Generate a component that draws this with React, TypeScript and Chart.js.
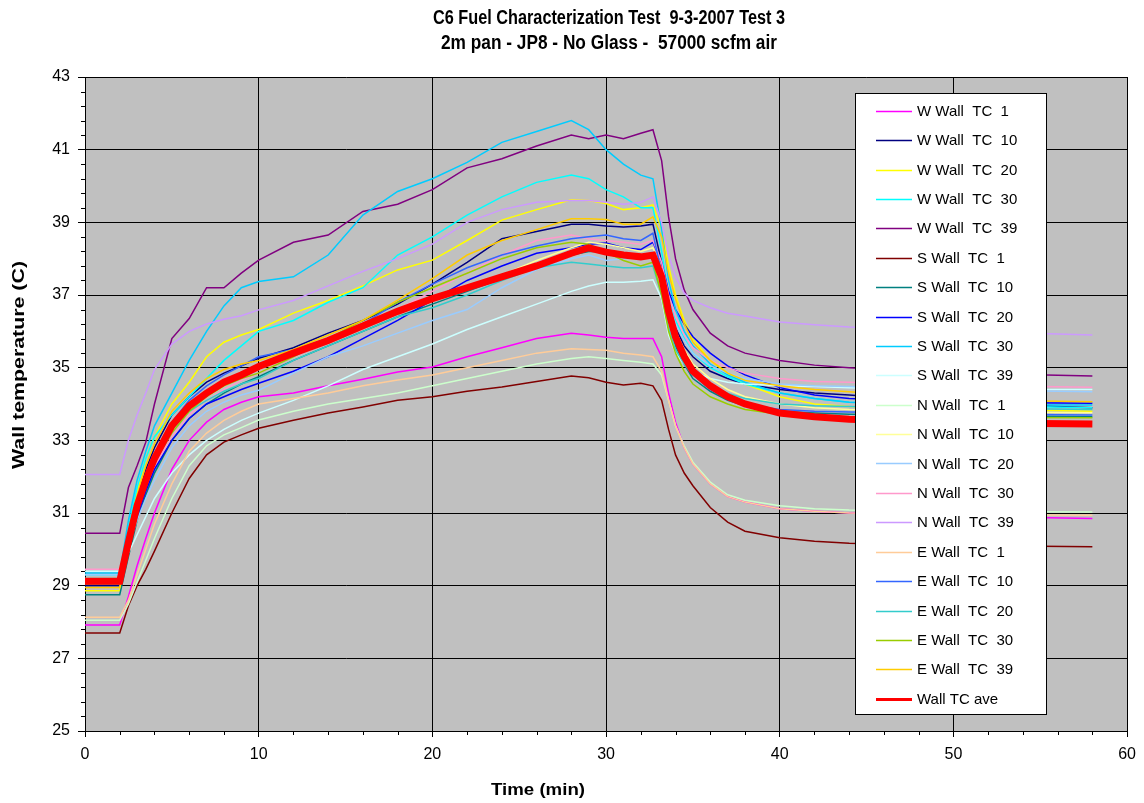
import React, { useEffect, useRef } from "react";
import { Chart, registerables } from "chart.js";

Chart.register(...registerables);

// ---- data ----
const TIME = [0, 2, 2.5, 3, 3.5, 4, 5, 6, 7, 8, 9, 10, 12, 14, 16, 18, 20, 22, 24, 26, 28, 29, 30, 31, 32, 32.7, 33.2, 33.6, 34, 34.5, 35, 36, 37, 38, 40, 42, 44, 48, 52, 58];

const W_WALL_1 = [27.92, 27.92, 28.7, 29.55, 30.3, 31.0, 32.2, 33.0, 33.5, 33.85, 34.05, 34.2, 34.3, 34.5, 34.68, 34.88, 35.02, 35.3, 35.55, 35.8, 35.95, 35.9, 35.84, 35.8, 35.8, 35.8, 35.3, 34.3, 33.5, 32.8, 32.35, 31.8, 31.45, 31.3, 31.12, 31.05, 31.0, 30.95, 30.9, 30.85];
const W_WALL_10 = [29.0, 29.0, 30.5, 31.4, 32.2, 32.8, 33.7, 34.2, 34.6, 34.85, 35.05, 35.26, 35.55, 35.95, 36.3, 36.75, 37.3, 37.9, 38.55, 38.75, 38.95, 38.95, 38.9, 38.87, 38.9, 38.95, 37.9, 36.8, 36.1, 35.6, 35.3, 34.9, 34.7, 34.55, 34.4, 34.3, 34.25, 34.1, 34.0, 33.9];
const W_WALL_20 = [28.86, 28.86, 30.4, 31.6, 32.5, 33.1, 34.0, 34.6, 35.3, 35.7, 35.9, 36.05, 36.5, 36.85, 37.25, 37.69, 37.96, 38.5, 39.06, 39.35, 39.62, 39.6, 39.52, 39.35, 39.4, 39.48, 38.8, 37.8, 37.0, 36.3, 35.8, 35.2, 34.85, 34.55, 34.2, 34.0, 33.93, 33.88, 33.85, 33.8];
const W_WALL_30 = [29.3, 29.3, 30.6, 31.7, 32.5, 33.1, 33.7, 34.2, 34.7, 35.2, 35.6, 36.0, 36.3, 36.8, 37.2, 38.1, 38.6, 39.2, 39.7, 40.1, 40.3, 40.2, 39.9, 39.7, 39.4, 39.4, 38.2, 37.0, 36.3, 35.8, 35.4, 35.0, 34.75, 34.55, 34.3, 34.15, 34.05, 34.0, 33.95, 33.9];
const W_WALL_39 = [30.44, 30.44, 31.7, 32.3, 32.95, 34.0, 35.8, 36.35, 37.2, 37.2, 37.6, 37.96, 38.45, 38.65, 39.3, 39.5, 39.9, 40.5, 40.75, 41.1, 41.4, 41.3, 41.4, 41.3, 41.45, 41.55, 40.7, 39.15, 38.0, 37.14, 36.6, 35.95, 35.6, 35.4, 35.2, 35.07, 35.0, 34.9, 34.83, 34.77];
const S_WALL_1 = [27.7, 27.7, 28.45, 29.0, 29.45, 29.95, 31.0, 31.95, 32.6, 32.95, 33.15, 33.33, 33.55, 33.75, 33.92, 34.1, 34.2, 34.35, 34.47, 34.62, 34.77, 34.72, 34.6, 34.52, 34.57, 34.5, 34.1, 33.3, 32.6, 32.1, 31.75, 31.15, 30.75, 30.5, 30.32, 30.22, 30.17, 30.12, 30.1, 30.07];
const S_WALL_10 = [28.75, 28.75, 29.8, 30.8, 31.5, 32.1, 33.0, 33.6, 34.0, 34.3, 34.55, 34.75, 35.2, 35.6, 36.0, 36.4, 36.75, 37.1, 37.45, 37.75, 38.1, 38.2, 38.2, 38.1, 38.0, 38.1, 37.3, 36.3, 35.6, 35.1, 34.7, 34.35, 34.1, 33.95, 33.8, 33.75, 33.72, 33.7, 33.68, 33.65];
const S_WALL_20 = [29.05, 29.05, 30.0, 30.9, 31.6, 32.2, 33.0, 33.6, 34.0, 34.2, 34.4, 34.57, 34.9, 35.3, 35.8, 36.3, 36.86, 37.4, 37.8, 38.15, 38.3, 38.4, 38.43, 38.3, 38.25, 38.45, 37.9, 37.1, 36.6, 36.2, 35.85, 35.4, 35.05, 34.8, 34.45, 34.25, 34.15, 34.08, 34.04, 34.02];
const S_WALL_30 = [29.35, 29.35, 30.8, 31.9, 32.7, 33.4, 34.3, 35.2, 36.0, 36.7, 37.2, 37.37, 37.5, 38.1, 39.2, 39.85, 40.2, 40.65, 41.2, 41.5, 41.8, 41.55, 41.0, 40.6, 40.3, 40.2, 38.8, 37.4, 36.6, 36.0, 35.6, 35.1, 34.8, 34.6, 34.3, 34.15, 34.05, 34.0, 33.98, 33.97];
const S_WALL_39 = [29.4, 29.4, 29.9, 30.4, 30.9, 31.4, 32.1, 32.6, 33.0, 33.3, 33.55, 33.75, 34.1, 34.5, 34.95, 35.3, 35.65, 36.05, 36.4, 36.75, 37.1, 37.25, 37.35, 37.35, 37.38, 37.42, 36.9, 35.9, 35.4, 35.1, 34.9, 34.7, 34.6, 34.55, 34.5, 34.48, 34.45, 34.42, 34.4, 34.4];
const N_WALL_1 = [28.05, 28.05, 28.5, 29.1, 29.7, 30.3, 31.4, 32.3, 32.85, 33.15, 33.35, 33.56, 33.8, 34.0, 34.15, 34.3, 34.5, 34.7, 34.9, 35.1, 35.25, 35.3, 35.25, 35.2, 35.15, 35.1, 34.8, 34.1, 33.4, 32.85, 32.4, 31.85, 31.5, 31.35, 31.2, 31.12, 31.08, 31.05, 31.04, 31.03];
const N_WALL_10 = [29.2, 29.2, 30.3, 31.2, 31.9, 32.5, 33.3, 33.85, 34.2, 34.5, 34.75, 34.95, 35.35, 35.7, 36.1, 36.5, 36.85, 37.2, 37.55, 37.95, 38.3, 38.45, 38.4, 38.3, 38.2, 38.3, 37.7, 36.7, 36.0, 35.5, 35.1, 34.7, 34.4, 34.2, 34.0, 33.9, 33.85, 33.8, 33.78, 33.76];
const N_WALL_20 = [29.3, 29.3, 30.1, 30.8, 31.4, 31.9, 32.8, 33.4, 33.8, 34.05, 34.25, 34.38, 34.85, 35.3, 35.6, 35.95, 36.3, 36.6, 37.2, 37.7, 38.0, 38.1, 37.95, 38.0, 38.05, 38.2, 37.6, 36.8, 36.2, 35.75, 35.4, 35.05, 34.85, 34.7, 34.55, 34.5, 34.48, 34.42, 34.38, 34.34];
const N_WALL_30 = [29.45, 29.45, 30.3, 31.1, 31.8, 32.3, 33.1, 33.7, 34.1, 34.4, 34.65, 34.85, 35.3, 35.7, 36.1, 36.6, 37.1, 37.6, 38.1, 38.5, 38.65, 38.55, 38.5, 38.45, 38.4, 38.5, 37.9, 37.0, 36.4, 35.9, 35.55, 35.2, 35.0, 34.85, 34.7, 34.62, 34.6, 34.55, 34.5, 34.46];
const N_WALL_39 = [32.06, 32.06, 33.0, 33.7, 34.3, 34.95, 35.65, 36.0, 36.2, 36.33, 36.43, 36.59, 36.85, 37.25, 37.65, 38.0, 38.4, 39.0, 39.35, 39.55, 39.6, 39.6, 39.55, 39.5, 39.55, 39.7, 39.0, 38.1, 37.5, 37.05, 36.85, 36.65, 36.5, 36.42, 36.26, 36.18, 36.12, 36.05, 35.98, 35.9];
const E_WALL_1 = [28.13, 28.13, 28.6, 29.3, 30.0, 30.7, 31.8, 32.7, 33.2, 33.55, 33.8, 34.0, 34.15, 34.3, 34.5, 34.66, 34.8, 35.0, 35.2, 35.4, 35.52, 35.5, 35.48, 35.4, 35.35, 35.3, 34.9, 34.1, 33.4, 32.8, 32.35, 31.8, 31.45, 31.3, 31.12, 31.05, 31.0, 30.97, 30.95, 30.94];
const E_WALL_10 = [29.1, 29.1, 30.4, 31.3, 32.0, 32.6, 33.5, 34.1, 34.5, 34.8, 35.05, 35.3, 35.5, 35.8, 36.2, 36.8, 37.3, 37.75, 38.1, 38.35, 38.55, 38.6, 38.65, 38.55, 38.5, 38.7, 37.6, 36.4, 35.7, 35.2, 34.8, 34.4, 34.15, 34.0, 33.85, 33.8, 33.78, 33.75, 33.72, 33.7];
const E_WALL_20 = [29.2, 29.2, 30.3, 31.2, 31.9, 32.5, 33.3, 33.8, 34.1, 34.35, 34.55, 34.7, 35.2, 35.6, 36.0, 36.4, 36.65, 37.0, 37.4, 37.75, 37.9, 37.85, 37.8, 37.75, 37.75, 37.8, 37.0, 36.1, 35.5, 35.1, 34.8, 34.5, 34.3, 34.15, 34.0, 33.95, 33.93, 33.9, 33.88, 33.85];
const E_WALL_30 = [29.05, 29.05, 30.2, 31.1, 31.8, 32.4, 33.2, 33.8, 34.2, 34.5, 34.7, 34.85, 35.3, 35.8, 36.3, 36.8, 37.2, 37.6, 38.0, 38.3, 38.45, 38.4, 38.18, 37.95, 37.8, 37.9, 37.0, 36.0, 35.4, 34.9, 34.55, 34.2, 34.0, 33.85, 33.72, 33.67, 33.65, 33.64, 33.63, 33.62];
const E_WALL_39 = [28.95, 28.95, 30.5, 31.5, 32.3, 32.9, 33.8, 34.3, 34.7, 34.95, 35.1, 35.2, 35.5, 35.9, 36.3, 36.86, 37.45, 38.1, 38.5, 38.8, 39.1, 39.1, 39.08, 38.95, 38.95, 39.15, 38.6, 37.6, 36.9, 36.2, 35.7, 35.2, 34.85, 34.65, 34.5, 34.4, 34.34, 34.2, 34.1, 34.06];
const WALL_AVE = [29.12, 29.12, 30.2, 31.2, 31.9, 32.5, 33.4, 33.95, 34.3, 34.6, 34.8, 35.03, 35.4, 35.75, 36.15, 36.55, 36.9, 37.2, 37.5, 37.8, 38.15, 38.3, 38.18, 38.1, 38.05, 38.1, 37.5, 36.55, 35.85, 35.3, 34.9, 34.5, 34.2, 34.0, 33.75, 33.65, 33.58, 33.52, 33.48, 33.45];

const SERIES_NAMES = [
  "W Wall  TC  1", "W Wall  TC  10", "W Wall  TC  20", "W Wall  TC  30", "W Wall  TC  39",
  "S Wall  TC  1", "S Wall  TC  10", "S Wall  TC  20", "S Wall  TC  30", "S Wall  TC  39",
  "N Wall  TC  1", "N Wall  TC  10", "N Wall  TC  20", "N Wall  TC  30", "N Wall  TC  39",
  "E Wall  TC  1", "E Wall  TC  10", "E Wall  TC  20", "E Wall  TC  30", "E Wall  TC  39",
  "Wall TC ave",
];
const SERIES_VALUES = [
  W_WALL_1, W_WALL_10, W_WALL_20, W_WALL_30, W_WALL_39,
  S_WALL_1, S_WALL_10, S_WALL_20, S_WALL_30, S_WALL_39,
  N_WALL_1, N_WALL_10, N_WALL_20, N_WALL_30, N_WALL_39,
  E_WALL_1, E_WALL_10, E_WALL_20, E_WALL_30, E_WALL_39,
  WALL_AVE,
];

const TITLE_LINES = ["C6 Fuel Characterization Test  9-3-2007 Test 3", "2m pan - JP8 - No Glass -  57000 scfm air"];
const X_TITLE = "Time (min)";
const Y_TITLE = "Wall temperature (C)";

// ---- styles ----
const COLORS = [
  "#FF00FF", "#000080", "#FFFF00", "#00FFFF", "#800080",
  "#800000", "#008080", "#0000FF", "#00CCFF", "#CCFFFF",
  "#CCFFCC", "#FFFF99", "#99CCFF", "#FF99CC", "#CC99FF",
  "#FFCC99", "#3366FF", "#33CCCC", "#99CC00", "#FFCC00",
  "#FF0000",
];
const WIDTHS = [1.5, 1.5, 1.5, 1.5, 1.5, 1.5, 1.5, 1.5, 1.5, 1.5, 1.5, 1.5, 1.5, 1.5, 1.5, 1.5, 1.5, 1.5, 1.5, 1.5, 7];
const FONT = "'Liberation Sans', Arial, Helvetica, sans-serif";

function fillFit(ctx: CanvasRenderingContext2D, text: string, cx: number, cy: number, width: number) {
  const w = ctx.measureText(text).width;
  const s = width / w;
  ctx.save();
  ctx.translate(cx, cy);
  ctx.scale(s, 1);
  ctx.textAlign = "center";
  ctx.textBaseline = "middle";
  ctx.fillText(text, 0, 0);
  ctx.restore();
}

const decorPlugin = {
  id: "decor",
  beforeDraw(chart: any) {
    const { ctx, chartArea: a } = chart;
    ctx.save();
    ctx.fillStyle = "#C0C0C0";
    ctx.fillRect(a.left, a.top, a.right - a.left, a.bottom - a.top);
    ctx.restore();
  },
  afterDraw(chart: any) {
    const { ctx, chartArea: a } = chart;
    const xs = chart.scales.x;
    const ys = chart.scales.y;
    ctx.save();
    // minor ticks
    ctx.strokeStyle = "#000";
    ctx.lineWidth = 1;
    ctx.beginPath();
    for (let k = 0; k <= 45; k++) {
      if (k % 5 === 0) continue;
      const py = Math.round(ys.getPixelForValue(25 + 0.4 * k)) + 0.5;
      ctx.moveTo(a.left - 4, py);
      ctx.lineTo(a.left, py);
    }
    for (let t = 0; t <= 60; t += 2) {
      if (t % 10 === 0) continue;
      const px = Math.round(xs.getPixelForValue(t)) + 0.5;
      ctx.moveTo(px, a.bottom);
      ctx.lineTo(px, a.bottom + 4);
    }
    ctx.stroke();

    // legend
    const lx = 855.5, ly = 93.5, lw = 191, lh = 621;
    ctx.fillStyle = "#FFFFFF";
    ctx.fillRect(lx, ly, lw, lh);
    ctx.strokeStyle = "#000";
    ctx.lineWidth = 1;
    ctx.strokeRect(lx, ly, lw, lh);
    ctx.font = `15px ${FONT}`;
    ctx.textAlign = "left";
    ctx.textBaseline = "middle";
    for (let i = 0; i < SERIES_NAMES.length; i++) {
      const y = 110.7 + i * 29.4;
      ctx.strokeStyle = COLORS[i];
      ctx.lineWidth = i === SERIES_NAMES.length - 1 ? 3 : 1.5;
      ctx.beginPath();
      ctx.moveTo(876, Math.round(y) + 0.5);
      ctx.lineTo(912, Math.round(y) + 0.5);
      ctx.stroke();
      ctx.fillStyle = "#000";
      ctx.fillText(SERIES_NAMES[i], 917, y + 1);
    }

    // titles
    ctx.fillStyle = "#000";
    ctx.font = `bold 20px ${FONT}`;
    fillFit(ctx, TITLE_LINES[0], 609, 18, 352);
    fillFit(ctx, TITLE_LINES[1], 609, 43, 336);
    ctx.font = `bold 17px ${FONT}`;
    fillFit(ctx, X_TITLE, 538, 790, 94);
    ctx.save();
    ctx.translate(19, 365);
    ctx.rotate(-Math.PI / 2);
    fillFit(ctx, Y_TITLE, 0, 0, 208);
    ctx.restore();
    ctx.restore();
  },
};

export default function App() {
  const ref = useRef<HTMLCanvasElement | null>(null);
  useEffect(() => {
    if (!ref.current) return;
    const n = SERIES_VALUES.length;
    const datasets = SERIES_VALUES.map((vals, i) => ({
      label: SERIES_NAMES[i],
      data: TIME.map((t, j) => ({ x: t, y: vals[j] })),
      borderColor: COLORS[i],
      backgroundColor: COLORS[i],
      borderWidth: WIDTHS[i],
      pointRadius: 0,
      tension: 0,
      fill: false,
      order: i === n - 1 ? 0 : 100 - i,
    }));
    const chart = new Chart(ref.current, {
      type: "line",
      data: { datasets },
      plugins: [decorPlugin],
      options: {
        animation: false,
        responsive: true,
        maintainAspectRatio: false,
        layout: { padding: { top: 77, right: 12, left: 0, bottom: 0 } },
        plugins: { legend: { display: false }, title: { display: false }, tooltip: { enabled: false } },
        scales: {
          x: {
            type: "linear",
            min: 0,
            max: 60,
            afterFit: (s: any) => { s.height = 72; },
            ticks: { stepSize: 10, color: "#000", font: { family: FONT, size: 16 }, padding: 8, maxRotation: 0 },
            grid: { color: "#000", lineWidth: 1, tickLength: 6, tickColor: "#000" },
            border: { color: "#000", width: 1 },
          },
          y: {
            type: "linear",
            min: 25,
            max: 43,
            afterFit: (s: any) => { s.width = 85; },
            ticks: { stepSize: 2, color: "#000", font: { family: FONT, size: 16 }, padding: 8 },
            grid: { color: "#000", lineWidth: 1, tickLength: 7, tickColor: "#000" },
            border: { color: "#000", width: 1 },
          },
        },
      },
    });
    return () => chart.destroy();
  }, []);
  return (
    <div style={{ position: "fixed", left: 0, top: 0, width: 1144, height: 803, background: "#fff" }}>
      <canvas ref={ref} />
    </div>
  );
}
